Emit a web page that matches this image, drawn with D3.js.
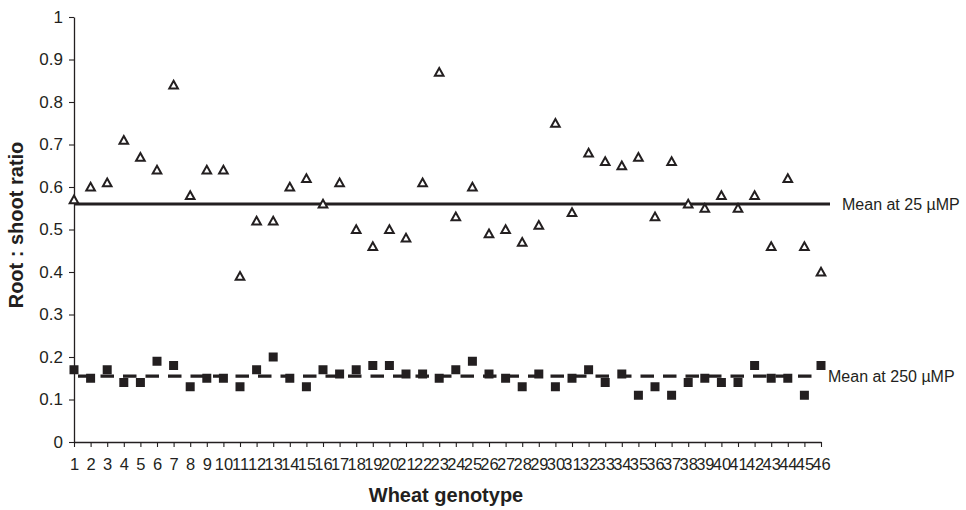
<!DOCTYPE html>
<html>
<head>
<meta charset="utf-8">
<script src="https://cdn.jsdelivr.net/npm/d3@7"></script>
<style>
  html, body { margin: 0; padding: 0; background: #fff; }
  svg { display: block; font-family: "Liberation Sans", Arial, sans-serif; }
</style>
</head>
<body>
<svg id="chart" width="966" height="510"></svg>
<script>
// ---- data ----
const genotypes = d3.range(1, 47);
const ratio25 = [0.57, 0.60, 0.61, 0.71, 0.67, 0.64, 0.84, 0.58, 0.64, 0.64,
                 0.39, 0.52, 0.52, 0.60, 0.62, 0.56, 0.61, 0.50, 0.46, 0.50,
                 0.48, 0.61, 0.87, 0.53, 0.60, 0.49, 0.50, 0.47, 0.51, 0.75,
                 0.54, 0.68, 0.66, 0.65, 0.67, 0.53, 0.66, 0.56, 0.55, 0.58,
                 0.55, 0.58, 0.46, 0.62, 0.46, 0.40];
const ratio250 = [0.17, 0.15, 0.17, 0.14, 0.14, 0.19, 0.18, 0.13, 0.15, 0.15,
                  0.13, 0.17, 0.20, 0.15, 0.13, 0.17, 0.16, 0.17, 0.18, 0.18,
                  0.16, 0.16, 0.15, 0.17, 0.19, 0.16, 0.15, 0.13, 0.16, 0.13,
                  0.15, 0.17, 0.14, 0.16, 0.11, 0.13, 0.11, 0.14, 0.15, 0.14,
                  0.14, 0.18, 0.15, 0.15, 0.11, 0.18];
const mean25 = 0.56;
const mean250 = 0.155;
const yTicks = [0, 0.1, 0.2, 0.3, 0.4, 0.5, 0.6, 0.7, 0.8, 0.9, 1];
const yTickLabels = ["0", "0.1", "0.2", "0.3", "0.4", "0.5", "0.6", "0.7", "0.8", "0.9", "1"];
const meanLabels = ["Mean at 25 \u00b5MP", "Mean at 250 \u00b5MP"];
const xTitle = "Wheat genotype";
const yTitle = "Root : shoot ratio";

// ---- layout ----
const ink = "#231f20";
const svg = d3.select("#chart");
const x = d3.scaleLinear().domain([1, 46]).range([74, 821]);
const y = d3.scaleLinear().domain([0, 1]).range([442, 17]);

// axes
const xAxis = d3.axisBottom(x).tickValues(genotypes).tickFormat(d3.format("d"))
  .tickSize(5).tickSizeOuter(0).tickPadding(11);
const gx = svg.append("g").attr("transform", `translate(0,${y(0)})`).call(xAxis);
gx.select(".domain").attr("stroke", ink).attr("stroke-width", 1.3);
gx.selectAll(".tick line").attr("stroke", ink).attr("stroke-width", 1.1);
gx.selectAll(".tick text").attr("fill", ink).attr("font-size", 16.5)
  .attr("font-family", "Liberation Sans, Arial, sans-serif");

const yAxis = d3.axisLeft(y).tickValues(yTicks)
  .tickFormat((d, i) => yTickLabels[i]).tickSize(5).tickSizeOuter(0).tickPadding(6);
const gy = svg.append("g").attr("transform", `translate(${x(1)},0)`).call(yAxis);
gy.select(".domain").attr("stroke", ink).attr("stroke-width", 1.3);
gy.selectAll(".tick line").attr("stroke", ink).attr("stroke-width", 1.1);
gy.selectAll(".tick text").attr("fill", ink).attr("font-size", 17)
  .attr("font-family", "Liberation Sans, Arial, sans-serif");

// mean lines
svg.append("line")
  .attr("x1", x(1)).attr("x2", x(46) + 9)
  .attr("y1", y(mean25)).attr("y2", y(mean25))
  .attr("stroke", ink).attr("stroke-width", 3.2);

svg.append("line")
  .attr("x1", x(1)).attr("x2", x(46) - 3)
  .attr("y1", y(mean250)).attr("y2", y(mean250))
  .attr("stroke", ink).attr("stroke-width", 3.2)
  .attr("stroke-dasharray", "13.5,9")
  .attr("stroke-dashoffset", 18.5);

// triangles (25 µM)
const tri = "M0,-4.2 L4.3,3.4 L-4.3,3.4 Z";
svg.append("g").selectAll("path").data(ratio25).join("path")
  .attr("d", tri)
  .attr("transform", (d, i) => `translate(${x(genotypes[i])},${y(d)})`)
  .attr("fill", "#fff").attr("stroke", ink).attr("stroke-width", 2)
  .attr("stroke-linejoin", "miter");

// squares (250 µM)
svg.append("g").selectAll("rect").data(ratio250).join("rect")
  .attr("x", (d, i) => x(genotypes[i]) - 4.5)
  .attr("y", d => y(d) - 4.5)
  .attr("width", 9).attr("height", 9)
  .attr("fill", ink);

// mean labels
svg.append("text").attr("x", 842).attr("y", y(mean25) + 6)
  .attr("font-size", 16).attr("fill", ink).text(meanLabels[0]);
svg.append("text").attr("x", 828).attr("y", y(mean250) + 6)
  .attr("font-size", 16).attr("fill", ink).text(meanLabels[1]);

// axis titles
svg.append("text").attr("x", 446).attr("y", 502)
  .attr("text-anchor", "middle").attr("font-size", 20).attr("font-weight", "bold")
  .attr("fill", ink).text(xTitle);
svg.append("text").attr("transform", "translate(23,225) rotate(-90)")
  .attr("text-anchor", "middle").attr("font-size", 20).attr("font-weight", "bold")
  .attr("fill", ink).text(yTitle);
</script>
</body>
</html>
